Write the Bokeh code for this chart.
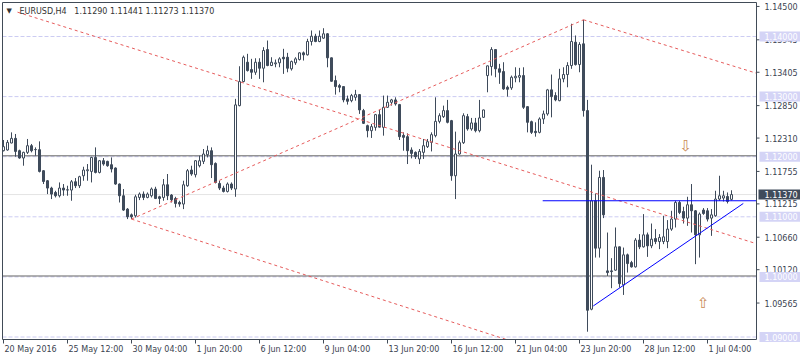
from bokeh.plotting import figure
from bokeh.models import Range1d, ColumnDataSource
from bokeh.core.properties import value
from bokeh.embed import file_html
from bokeh.resources import INLINE

# ---------------- data (EURUSD, H4) ----------------
opens = [
    1.12100, 1.12112, 1.12228, 1.12305, 1.12100, 1.11978, 1.12072, 1.12183, 1.12117, 1.12117,
    1.11767, 1.11600, 1.11478, 1.11405, 1.11350, 1.11478, 1.11445, 1.11445, 1.11583, 1.11517,
    1.11683, 1.11767, 1.11755, 1.11988, 1.11738, 1.11933, 1.11922, 1.11867, 1.11812, 1.11545,
    1.11350, 1.11128, 1.11033, 1.11017, 1.11322, 1.11378, 1.11322, 1.11350, 1.11462, 1.11333,
    1.11322, 1.11533, 1.11362, 1.11305, 1.11238, 1.11212, 1.11517, 1.11778, 1.11700, 1.11850,
    1.11922, 1.12033, 1.12100, 1.11888, 1.11555, 1.11478, 1.11422, 1.11545, 1.11462, 1.12850,
    1.13250, 1.13572, 1.13450, 1.13405, 1.13572, 1.13472, 1.13783, 1.13517, 1.13545, 1.13562,
    1.13655, 1.13655, 1.13462, 1.13562, 1.13617, 1.13728, 1.13695, 1.13917, 1.14005, 1.13917,
    1.13972, 1.14045, 1.13645, 1.13267, 1.13183, 1.13167, 1.12962, 1.12933, 1.12988, 1.13033,
    1.12767, 1.12517, 1.12433, 1.12488, 1.12700, 1.12488, 1.12822, 1.12905, 1.12945, 1.12867,
    1.12355, 1.12333, 1.12112, 1.12072, 1.11962, 1.12072, 1.12167, 1.12238, 1.12350, 1.12588,
    1.12667, 1.12767, 1.12600, 1.11683, 1.12045, 1.12233, 1.12667, 1.12462, 1.12562, 1.12433,
    1.12655, 1.13350, 1.13500, 1.13783, 1.13462, 1.13417, 1.13155, 1.13145, 1.13312, 1.13322,
    1.13350, 1.12833, 1.12583, 1.12422, 1.12405, 1.12628, 1.12712, 1.13112, 1.13017, 1.12933,
    1.13295, 1.13367, 1.13517, 1.13905, 1.13533, 1.13878, 1.12767, 1.09462, 1.11267, 1.10478,
    1.11655, 1.10100, 1.10100, 1.10112, 1.10500, 1.09867, 1.10367, 1.10238, 1.10167, 1.10612,
    1.10500, 1.10700, 1.10517, 1.10638, 1.10588, 1.10588, 1.10588, 1.10795, 1.10962, 1.11238,
    1.11088, 1.10978, 1.11200, 1.11100, 1.10700, 1.11112, 1.11100, 1.10978, 1.11017, 1.11295,
    1.11312, 1.11338, 1.11290,
]
highs = [
    1.12278, 1.12278, 1.12405, 1.12378, 1.12117, 1.12083, 1.12295, 1.12212, 1.12155, 1.12255,
    1.11775, 1.11612, 1.11500, 1.11433, 1.11572, 1.11545, 1.11517, 1.11612, 1.11645, 1.11683,
    1.11833, 1.11878, 1.12000, 1.12155, 1.11945, 1.11978, 1.11933, 1.11988, 1.11822, 1.11555,
    1.11462, 1.11145, 1.11055, 1.11367, 1.11405, 1.11422, 1.11405, 1.11488, 1.11500, 1.11350,
    1.11628, 1.11712, 1.11378, 1.11333, 1.11267, 1.11600, 1.11795, 1.11850, 1.11942, 1.12017,
    1.12128, 1.12183, 1.12155, 1.11905, 1.11600, 1.11517, 1.11572, 1.11572, 1.12962, 1.13505,
    1.13683, 1.13712, 1.13628, 1.13638, 1.13638, 1.13822, 1.13933, 1.13655, 1.13617, 1.13655,
    1.13795, 1.13728, 1.13600, 1.13655, 1.13738, 1.13750, 1.13962, 1.14100, 1.14045, 1.14100,
    1.14138, 1.14055, 1.13650, 1.13350, 1.13212, 1.13172, 1.13017, 1.13045, 1.13112, 1.13038,
    1.12795, 1.12533, 1.12545, 1.12712, 1.12778, 1.13017, 1.13017, 1.12962, 1.12988, 1.12878,
    1.12405, 1.12388, 1.12155, 1.12088, 1.12128, 1.12295, 1.12295, 1.12405, 1.12988, 1.12722,
    1.12850, 1.12945, 1.12612, 1.12417, 1.12267, 1.12722, 1.12712, 1.12645, 1.12645, 1.12945,
    1.12783, 1.13517, 1.13822, 1.13792, 1.13545, 1.13572, 1.13183, 1.13350, 1.13488, 1.13478,
    1.13488, 1.12838, 1.12600, 1.12572, 1.12655, 1.12767, 1.13128, 1.13367, 1.13072, 1.13462,
    1.13488, 1.13572, 1.14212, 1.14017, 1.13905, 1.14278, 1.12945, 1.11867, 1.11388, 1.11767,
    1.11778, 1.10738, 1.10312, 1.10822, 1.10505, 1.10488, 1.10388, 1.10267, 1.10645, 1.10712,
    1.11045, 1.10738, 1.10888, 1.10795, 1.10712, 1.11017, 1.10945, 1.11100, 1.11267, 1.11267,
    1.11167, 1.11333, 1.11545, 1.11112, 1.11072, 1.11145, 1.11145, 1.11128, 1.11433, 1.11683,
    1.11433, 1.11405, 1.11441,
]
lows = [
    1.12088, 1.12100, 1.12222, 1.12000, 1.11967, 1.11850, 1.12045, 1.12072, 1.12017, 1.11738,
    1.11545, 1.11378, 1.11295, 1.11322, 1.11322, 1.11350, 1.11350, 1.11267, 1.11478, 1.11478,
    1.11600, 1.11600, 1.11572, 1.11722, 1.11722, 1.11850, 1.11833, 1.11738, 1.11533, 1.11238,
    1.11100, 1.10962, 1.10962, 1.10988, 1.11278, 1.11278, 1.11308, 1.11322, 1.11295, 1.11212,
    1.11267, 1.11278, 1.11238, 1.11155, 1.11167, 1.11128, 1.11500, 1.11683, 1.11655, 1.11822,
    1.11878, 1.11988, 1.11645, 1.11555, 1.11445, 1.11405, 1.11405, 1.11445, 1.11333, 1.12838,
    1.13238, 1.13417, 1.13295, 1.13362, 1.13295, 1.13238, 1.13505, 1.13508, 1.13488, 1.13488,
    1.13378, 1.13405, 1.13433, 1.13528, 1.13600, 1.13600, 1.13683, 1.13850, 1.13905, 1.13905,
    1.13962, 1.13488, 1.13250, 1.13033, 1.13072, 1.12905, 1.12867, 1.12905, 1.12933, 1.12712,
    1.12545, 1.12322, 1.12312, 1.12433, 1.12488, 1.12350, 1.12812, 1.12850, 1.12850, 1.12278,
    1.12100, 1.11878, 1.11972, 1.11962, 1.11878, 1.11962, 1.12145, 1.12088, 1.12322, 1.12555,
    1.12645, 1.12555, 1.11600, 1.11295, 1.12033, 1.12212, 1.12433, 1.12433, 1.12405, 1.12405,
    1.12645, 1.13072, 1.13350, 1.13322, 1.13212, 1.13112, 1.13000, 1.13112, 1.13238, 1.13238,
    1.12795, 1.12405, 1.12378, 1.12333, 1.12388, 1.12545, 1.12683, 1.12655, 1.12922, 1.12922,
    1.13238, 1.13155, 1.13462, 1.13517, 1.13405, 1.12667, 1.09088, 1.09445, 1.10322, 1.10322,
    1.10978, 1.10017, 1.09812, 1.10100, 1.09822, 1.09700, 1.10072, 1.10155, 1.10155, 1.10462,
    1.10488, 1.10333, 1.10478, 1.10545, 1.10462, 1.10545, 1.10478, 1.10767, 1.10822, 1.11045,
    1.10888, 1.10850, 1.10738, 1.10212, 1.10322, 1.11033, 1.10922, 1.10683, 1.11000, 1.11267,
    1.11255, 1.11222, 1.11273,
]
closes = [
    1.12167, 1.12238, 1.12305, 1.12088, 1.11978, 1.12072, 1.12183, 1.12100, 1.12120, 1.11755,
    1.11588, 1.11478, 1.11378, 1.11350, 1.11478, 1.11445, 1.11450, 1.11583, 1.11517, 1.11667,
    1.11778, 1.11783, 1.11988, 1.11738, 1.11933, 1.11878, 1.11850, 1.11795, 1.11545, 1.11350,
    1.11112, 1.11000, 1.11000, 1.11333, 1.11378, 1.11322, 1.11378, 1.11462, 1.11305, 1.11305,
    1.11533, 1.11350, 1.11283, 1.11222, 1.11212, 1.11533, 1.11767, 1.11712, 1.11933, 1.11933,
    1.12045, 1.12100, 1.11867, 1.11572, 1.11478, 1.11422, 1.11545, 1.11478, 1.12862, 1.13250,
    1.13655, 1.13433, 1.13405, 1.13572, 1.13472, 1.13767, 1.13517, 1.13572, 1.13562, 1.13628,
    1.13628, 1.13472, 1.13583, 1.13628, 1.13728, 1.13695, 1.13917, 1.14005, 1.13917, 1.14005,
    1.14045, 1.13645, 1.13255, 1.13167, 1.13155, 1.12945, 1.12922, 1.13017, 1.13033, 1.12778,
    1.12555, 1.12433, 1.12500, 1.12700, 1.12492, 1.12822, 1.12905, 1.12945, 1.12878, 1.12333,
    1.12322, 1.12100, 1.12055, 1.12000, 1.12088, 1.12183, 1.12250, 1.12367, 1.12588, 1.12683,
    1.12767, 1.12572, 1.11683, 1.12045, 1.12233, 1.12683, 1.12462, 1.12562, 1.12433, 1.12645,
    1.12778, 1.13512, 1.13783, 1.13462, 1.13405, 1.13128, 1.13122, 1.13322, 1.13338, 1.13350,
    1.12822, 1.12572, 1.12405, 1.12400, 1.12628, 1.12712, 1.13112, 1.13000, 1.12945, 1.13295,
    1.13367, 1.13517, 1.13917, 1.13533, 1.13867, 1.12767, 1.09445, 1.11267, 1.10478, 1.11655,
    1.11033, 1.10072, 1.10088, 1.10500, 1.09888, 1.10367, 1.10222, 1.10167, 1.10612, 1.10500,
    1.10700, 1.10517, 1.10628, 1.10588, 1.10655, 1.10667, 1.10795, 1.10962, 1.11238, 1.11072,
    1.10978, 1.11200, 1.11100, 1.10700, 1.11045, 1.11055, 1.10962, 1.11033, 1.11295, 1.11350,
    1.11350, 1.11255, 1.11370,
]
bars = list(range(len(closes)))

date_ticks = [0, 16, 32, 48, 64, 80, 96, 112, 128, 144, 160, 176]
date_labels = ["20 May 2016", "25 May 12:00", "30 May 04:00", "1 Jun 20:00", "6 Jun 12:00",
               "9 Jun 04:00", "13 Jun 20:00", "16 Jun 12:00", "21 Jun 04:00", "23 Jun 20:00",
               "28 Jun 12:00", "1 Jul 04:00"]

price_ticks = [1.14500, 1.13945, 1.13405, 1.12850, 1.12310, 1.11755, 1.11215, 1.10660, 1.10120, 1.09565]
level_prices = [1.14, 1.13, 1.12, 1.11, 1.10, 1.09]
support_prices = [1.12015, 1.10015]
last_price = 1.11370
title_text = "EURUSD,H4\u00a0\u00a0\u00a01.11290 1.11441 1.11273 1.11370"

# drawn objects (bar index, price)
red_xs = [[3.5, 200], [32, 145], [32, 140], [145, 190]]
red_ys = [[1.14405, 1.10307], [1.10962, 1.14278], [1.10962, 1.08653], [1.14278, 1.13353]]
blue_xs = [[134.8, 190], [147.45, 184.95]]
blue_ys = [[1.11267, 1.11267], [1.09517, 1.11222]]
arrow_x = [170.6, 174.95]
arrow_y = [1.12183, 1.09567]
arrow_text = ["\u21e9", "\u21e7"]

# ---------------- styling / geometry ----------------
FONT = "DejaVu Sans"
CANDLE = "#3f4b5b"
FRAME = "#414b57"
TEXT = "#3b4350"
RED = "#e65c5c"
LAV = "#ccccf2"
LAVBOX = "#d4d4f6"

XPX, YPX = 4.0, 6010.0          # pixels per bar, pixels per price unit
X0PX, REFP, REFY = 3.0, 1.14, 36.0


def px2x(px):
    return (px - X0PX) / XPX


def px2y(py):
    return REFP - (py - REFY) / YPX


AX0, AX1 = px2x(2), px2x(756)       # chart window
AYT, AYB = px2y(2), px2y(339)


def clip(xa, ya, xb, yb):
    t0, t1 = 0.0, 1.0
    dx, dy = xb - xa, yb - ya
    for pp, qq in ((-dx, xa - AX0), (dx, AX1 - xa), (-dy, ya - AYB), (dy, AYT - ya)):
        if pp == 0:
            if qq < 0:
                return None
        else:
            r = qq / pp
            if pp < 0:
                t0 = max(t0, r)
            else:
                t1 = min(t1, r)
    if t0 > t1:
        return None
    return [xa + t0 * dx, xa + t1 * dx], [ya + t0 * dy, ya + t1 * dy]


p = figure(width=800, height=360,
           x_range=Range1d(px2x(0), px2x(800)), y_range=Range1d(px2y(360), px2y(0)),
           output_backend="svg", toolbar_location=None,
           x_axis_location=None, y_axis_location=None, min_border=0,
           background_fill_color="white", border_fill_color="white", outline_line_color=None)
p.grid.visible = False

# horizontal levels inside the chart window
p.segment(x0=[AX0], y0=[last_price], x1=[AX1], y1=[last_price], line_color="#e4e4e4", line_width=1)
p.segment(x0=[AX0] * len(level_prices), y0=level_prices, x1=[AX1] * len(level_prices), y1=level_prices,
          line_color=LAV, line_width=1, line_dash="4 2")
p.segment(x0=[AX0] * len(support_prices), y0=support_prices, x1=[AX1] * len(support_prices),
          y1=support_prices, line_color="#666666", line_width=1)

# candles
src = ColumnDataSource(dict(
    x=bars, h=highs, l=lows,
    top=[max(o, c) for o, c in zip(opens, closes)],
    bottom=[min(o, c) for o, c in zip(opens, closes)],
    fill=["white" if c >= o else CANDLE for o, c in zip(opens, closes)],
))
p.segment(x0="x", y0="l", x1="x", y1="h", source=src, line_color=CANDLE, line_width=1)
p.vbar(x="x", width=0.5, top="top", bottom="bottom", fill_color="fill",
       line_color=CANDLE, line_width=1, source=src)

# trend lines
rx, ry = [], []
for xs, ys in zip(red_xs, red_ys):
    c = clip(xs[0], ys[0], xs[1], ys[1])
    if c:
        rx.append(c[0]); ry.append(c[1])
p.multi_line(xs=rx, ys=ry, line_color=RED, line_width=1, line_dash="3 3")
bx, by = [], []
for xs, ys in zip(blue_xs, blue_ys):
    c = clip(xs[0], ys[0], xs[1], ys[1])
    if c:
        bx.append(c[0]); by.append(c[1])
p.multi_line(xs=bx, ys=by, line_color="#0000ff", line_width=1)

# arrows
p.text(x=arrow_x, y=arrow_y, text=arrow_text, text_font=value(FONT), text_font_size="15px",
       text_color="#c98a55", text_align="center", text_baseline="middle")

# chart window border
p.quad(left=[AX0], right=[AX1], top=[AYT], bottom=[AYB], fill_color=None, line_color=FRAME, line_width=1)

# price scale: ticks and labels
p.segment(x0=[AX1] * len(price_ticks), y0=price_ticks, x1=[px2x(759)] * len(price_ticks), y1=price_ticks,
          line_color=FRAME, line_width=1)
p.text(x=[px2x(764)] * len(price_ticks), y=price_ticks, text=["%.5f" % v for v in price_ticks],
       text_font=value(FONT), text_font_size="8px", text_color=TEXT,
       text_align="left", text_baseline="middle")

# highlighted level labels
hb = 5.0 / YPX
p.quad(left=[px2x(759)] * len(level_prices), right=[px2x(800)] * len(level_prices),
       top=[v + hb for v in level_prices], bottom=[v - hb for v in level_prices],
       fill_color=LAVBOX, line_color=None)
p.text(x=[px2x(764)] * len(level_prices), y=level_prices, text=["%.5f" % v for v in level_prices],
       text_font=value(FONT), text_font_size="8px", text_color="white",
       text_align="left", text_baseline="middle")
p.quad(left=[px2x(758)], right=[px2x(800)], top=[last_price + hb], bottom=[last_price - hb],
       fill_color="#3f4b5b", line_color=None)
p.text(x=[px2x(764)], y=[last_price], text=["%.5f" % last_price],
       text_font=value(FONT), text_font_size="8px", text_color="white",
       text_align="left", text_baseline="middle")

# time scale: ticks and labels
p.segment(x0=date_ticks, y0=[AYB] * len(date_ticks), x1=date_ticks, y1=[px2y(343)] * len(date_ticks),
          line_color=FRAME, line_width=1)
p.text(x=[t + 0.25 for t in date_ticks], y=[px2y(349)] * len(date_ticks), text=date_labels,
       text_font=value(FONT), text_font_size="8px", text_color=TEXT,
       text_align="left", text_baseline="middle")

# title
p.text(x=[px2x(6)], y=[px2y(10)], text=["\u25bc"], text_font=value(FONT), text_font_size="7px",
       text_color="#333333", text_align="left", text_baseline="middle")
p.text(x=[px2x(19)], y=[px2y(10.5)], text=[title_text], text_font=value(FONT), text_font_size="8px",
       text_color="#333333", text_align="left", text_baseline="middle")

open("out.html", "w").write(file_html(p, INLINE))
